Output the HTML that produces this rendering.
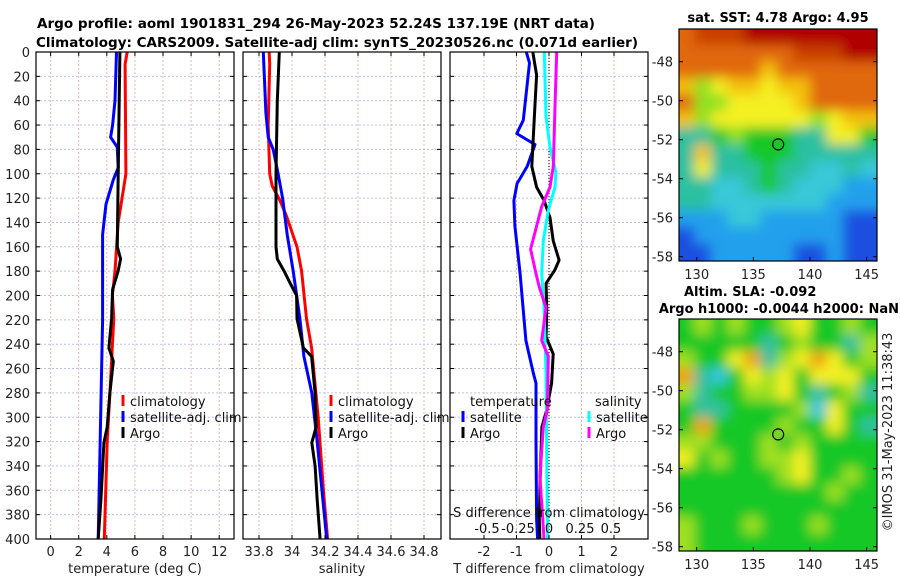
<!DOCTYPE html>
<html><head><meta charset="utf-8"><style>
body{margin:0;background:#fff;}
svg{display:block;font-family:"DejaVu Sans","Liberation Sans",sans-serif;}
</style></head><body>
<svg id="fig" width="900" height="580" viewBox="0 0 900 580">
<defs>
<filter id="blurA" x="-5%" y="-5%" width="110%" height="110%"><feGaussianBlur stdDeviation="6"/></filter>
<clipPath id="clipTop"><rect x="679" y="29" width="198" height="232"/></clipPath>
<clipPath id="clipBot"><rect x="679" y="319" width="198" height="232"/></clipPath>
</defs>
<g font-weight="bold" font-size="13.5" fill="#000">
<text x="37" y="28" textLength="558" lengthAdjust="spacingAndGlyphs">Argo profile: aoml 1901831_294 26-May-2023 52.24S 137.19E (NRT data)</text>
<text x="36" y="47" textLength="602" lengthAdjust="spacingAndGlyphs">Climatology: CARS2009. Satellite-adj clim: synTS_20230526.nc (0.071d earlier)</text>
</g>
<g id="g-grid"></g>
<g id="g-lines"></g>
<g id="g-axes"></g>
<g id="g-maps"></g>
</svg>
<script>
// ---- temperature panel data ----
const tClimDepth = [0,10,100,110,140,180,200,219,280,320,400];
const tClimVal   = [5.45,5.3,5.36,5.22,4.81,4.58,4.4,4.5,4.22,4.03,3.82];
const tSatDepth  = [0,40,60,70,78,95,105,125,150,220,400];
const tSatVal    = [4.69,4.58,4.41,4.27,4.74,4.81,4.46,3.94,3.7,3.7,3.39];
const tArgoDepth = [0,40,100,160,170,180,195,219,243,254,280,308,321,368,400];
const tArgoVal   = [4.93,4.88,4.81,4.75,4.98,4.8,4.41,4.34,4.15,4.46,4.22,4.03,3.79,3.58,3.39];
// ---- salinity panel data ----
const sClimDepth = [0,10,60,100,110,122,135,160,180,219,243,300,360,400];
const sClimVal   = [33.862,33.865,33.856,33.865,33.88,33.927,33.967,34.03,34.058,34.088,34.119,34.159,34.19,34.216];
const sSatDepth  = [0,50,70,80,100,120,150,180,219,250,280,320,400];
const sSatVal    = [33.826,33.842,33.856,33.886,33.916,33.943,33.971,34.007,34.048,34.072,34.12,34.153,34.21];
const sArgoDepth = [0,40,100,160,170,180,190,200,219,243,250,280,308,321,340,368,400];
const sArgoVal   = [33.923,33.911,33.903,33.903,33.911,33.952,33.989,34.028,34.03,34.069,34.119,34.14,34.146,34.12,34.14,34.153,34.17];
// ---- difference panel data ----
const dTSatDepth = [0,9,56,67,76,94,108,122,143,182,237,264,272,319,384,400];
const dTSatVal   = [-0.7,-0.6,-0.79,-0.99,-0.43,-0.67,-0.98,-1.08,-1.05,-0.89,-0.71,-0.48,-0.4,-0.4,-0.38,-0.35];
const dTArgoDepth= [0,19,43,94,111,122,136,155,171,179,190,212,234,248,272,294,308,349,384,400];
const dTArgoVal  = [-0.5,-0.38,-0.43,-0.53,-0.38,-0.15,0.03,0.13,0.31,0.18,-0.09,-0.07,-0.09,0.13,0.08,-0.07,-0.22,-0.27,-0.3,-0.28];
const dSSatDepth = [0,53,78,99,111,130,155,182,210,264,384,400];
const dSSatVal   = [-0.038,-0.024,0.008,0.056,0.048,-0.006,-0.046,-0.059,-0.04,-0.024,-0.014,-0.012];
const dSArgoDepth= [0,45,94,111,127,143,162,182,193,210,237,250,294,308,349,384,400];
const dSArgoVal  = [0.062,0.048,0.035,0.008,-0.059,-0.1,-0.148,-0.105,-0.078,-0.024,-0.059,-0.006,-0.014,-0.046,-0.073,-0.05,-0.04];
// ---- tick labels ----
const depthTicks = [0,20,40,60,80,100,120,140,160,180,200,220,240,260,280,300,320,340,360,380,400];
const tTicks = [0,2,4,6,8,10,12];
const sTicks = [33.8,34,34.2,34.4,34.6,34.8];
const sTickLabels = ["33.8","34","34.2","34.4","34.6","34.8"];
const dTTicks = [-2,-1,0,1,2];
const dSTicks = [-0.5,-0.25,0,0.25,0.5];
const dSTickLabels = ["-0.5","-0.25","0","0.25","0.5"];
const latTicks = [-48,-50,-52,-54,-56,-58];
const lonTicks = [130,135,140,145];
// ---- map fields (colour class per cell) ----
const sstGrid = [
[8,9,9,9,10,10,10,10,10,10,10,10],
[8,8,8,8,8,8,8,9,9,9,10,10],
[8,8,8,8,8,7,8,8,8,8,8,8],
[7,5,6,7,7,6,7,7,8,8,8,8],
[8,5,5,6,6,6,6,7,8,8,8,8],
[7,5,6,6,6,6,6,6,5,6,7,7],
[3,3,4,5,4,4,4,3,3,6,6,4],
[3,7,3,3,4,4,4,3,3,3,3,3],
[3,6,3,3,3,4,3,3,2,2,3,2],
[3,3,2,2,3,4,3,2,2,2,1,1],
[3,3,2,2,2,2,2,2,2,1,1,1],
[1,1,1,2,2,1,1,1,1,1,0,0],
[0,1,1,1,1,1,1,1,1,1,0,0],
[0,0,1,1,1,1,1,0,0,1,0,0]];
const slaGrid = [
[4,5,4,5,4,4,5,6,4,4,5,4],
[4,4,4,4,4,3,4,5,4,4,3,5],
[5,4,4,6,7,3,5,6,7,6,4,5],
[7,3,2,4,6,5,6,4,6,6,6,4],
[5,3,4,4,5,5,6,4,3,4,5,3],
[4,3,3,4,4,4,4,5,2,6,4,4],
[4,7,4,4,4,4,5,4,4,6,4,3],
[5,5,4,4,4,5,4,5,4,4,4,4],
[6,4,5,4,4,5,5,6,4,4,4,4],
[4,4,4,4,4,4,5,6,4,4,5,4],
[4,4,4,4,4,4,4,4,4,5,4,4],
[4,4,4,4,4,4,4,4,4,4,4,4],
[5,4,4,4,5,4,4,4,5,4,4,4],
[5,4,4,4,4,4,4,4,4,4,4,4]];
const argoLon = 137.19, argoLat = -52.24;

const NS="http://www.w3.org/2000/svg";
const grid=document.getElementById('g-grid'), lines=document.getElementById('g-lines'), axes=document.getElementById('g-axes'), maps=document.getElementById('g-maps');
function mk(tag,attrs,parent){const e=document.createElementNS(NS,tag);for(const k in attrs)e.setAttribute(k,attrs[k]);parent.appendChild(e);return e;}
function txt(s,attrs,parent){const e=mk('text',attrs,parent);e.textContent=s;return e;}

const Y0=52,Y1=539;
const yD=d=>Y0+d*(Y1-Y0)/400;
const xT=t=>36+(t+1.04)*14.05;
const xS=s=>243+(s-33.703)*165;
const xDT=d=>549+d*32.5;
const xDS=s=>549+s*124;
const panels=[{x0:36,x1:234,name:'temperature-panel'},{x0:243,x1:441,name:'salinity-panel'},{x0:450,x1:648,name:'difference-panel'}];

panels.forEach(p=>{
  depthTicks.forEach(d=>{const l=mk('line',{x1:p.x0,x2:p.x1,y1:yD(d),y2:yD(d),stroke:'#b8c0e8','stroke-width':1,'stroke-dasharray':'2,2'},grid);
  
  });
});
function vgrid(arr,fx){arr.forEach(v=>{const l=mk('line',{x1:fx(v),x2:fx(v),y1:Y0,y2:Y1,stroke:'#e8b8b0','stroke-width':1,'stroke-dasharray':'2,2'},grid);
  
  });}
vgrid(tTicks,xT);vgrid(sTicks,xS);vgrid(dTTicks,xDT);
const zl=mk('line',{x1:xDT(0),x2:xDT(0),y1:Y0,y2:Y1,stroke:'#000','stroke-width':1,'stroke-dasharray':'1,2'},grid);



function series(dep,val,fx,color,name){
  const pts=dep.map((d,i)=>fx(val[i]).toFixed(1)+','+yD(d).toFixed(1)).join(' ');
  const pl=mk('polyline',{points:pts,fill:'none',stroke:color,'stroke-width':3,'stroke-linejoin':'round'},lines);
  
  
}
series(tClimDepth,tClimVal,xT,'#ff0000','temperature-climatology-line');
series(tSatDepth,tSatVal,xT,'#0000ff','temperature-satellite-line');
series(tArgoDepth,tArgoVal,xT,'#000000','temperature-argo-line');
series(sClimDepth,sClimVal,xS,'#ff0000','salinity-climatology-line');
series(sSatDepth,sSatVal,xS,'#0000ff','salinity-satellite-line');
series(sArgoDepth,sArgoVal,xS,'#000000','salinity-argo-line');
series(dTSatDepth,dTSatVal,xDT,'#0000ff','tdiff-satellite-line');
series(dTArgoDepth,dTArgoVal,xDT,'#000000','tdiff-argo-line');
series(dSSatDepth,dSSatVal,xDS,'#00ffff','sdiff-satellite-line');
series(dSArgoDepth,dSArgoVal,xDS,'#ff00ff','sdiff-argo-line');

panels.forEach(p=>{
  const r=mk('rect',{x:p.x0,y:Y0,width:p.x1-p.x0,height:Y1-Y0,fill:'none',stroke:'#000','stroke-width':1.2},axes);
  
  
  depthTicks.forEach(d=>{mk('line',{x1:p.x0,x2:p.x0+4,y1:yD(d),y2:yD(d),stroke:'#000'},axes);mk('line',{x1:p.x1-4,x2:p.x1,y1:yD(d),y2:yD(d),stroke:'#000'},axes);});
});
depthTicks.forEach(d=>{const t=txt(String(d),{x:30,y:yD(d)+5,'text-anchor':'end','font-size':13,fill:'#222'},axes);
  
  });
function xticks(arr,labels,fx,y){arr.forEach((v,i)=>{mk('line',{x1:fx(v),x2:fx(v),y1:Y1,y2:Y1-4,stroke:'#000'},axes);mk('line',{x1:fx(v),x2:fx(v),y1:Y0,y2:Y0+4,stroke:'#000'},axes);
  const t=txt(labels[i],{x:fx(v),y:y,'text-anchor':'middle','font-size':13,fill:'#222'},axes);
  
  });}
xticks(tTicks,tTicks.map(String),xT,556);
xticks(sTicks,sTickLabels,xS,556);
xticks(dTTicks,dTTicks.map(String),xDT,556);
dSTicks.forEach((v,i)=>{const t=txt(dSTickLabels[i],{x:xDS(v),y:533,'text-anchor':'middle','font-size':13,fill:'#111'},axes);
  
  });
[['temperature (deg C)',135,'temperature-axis-title'],['salinity',342,'salinity-axis-title'],['T difference from climatology',549,'tdiff-axis-title']].forEach(a=>{
  const t=txt(a[0],{x:a[1],y:573,'text-anchor':'middle','font-size':13,fill:'#222'},axes);
  
  });
const sdt=txt('S difference from climatology',{x:549,y:517,'text-anchor':'middle','font-size':13,fill:'#111'},axes);



function legend(x,y,color,label,name){
  const g=mk('g',{},axes);
  
  
  mk('rect',{x:x-1.5,y:y-11,width:3,height:11,fill:color},g);
  txt(label,{x:x+7,y:y,'font-size':13,fill:'#111'},g);
}
legend(123,406,'#ff0000','climatology','legend-climatology');
legend(123,422,'#0000ff','satellite-adj. clim','legend-satellite-adj');
legend(123,438,'#000','Argo','legend-argo');
legend(331,406,'#ff0000','climatology','legend-climatology-2');
legend(331,422,'#0000ff','satellite-adj. clim','legend-satellite-adj-2');
legend(331,438,'#000','Argo','legend-argo-2');
const lt=txt('temperature',{x:470,y:406,'font-size':13,fill:'#111'},axes);


const ls=txt('salinity',{x:595,y:406,'font-size':13,fill:'#111'},axes);


legend(463,422,'#0000ff','satellite','legend-t-satellite');
legend(463,438,'#000','Argo','legend-t-argo');
legend(589,422,'#00ffff','satellite','legend-s-satellite');
legend(589,438,'#ff00ff','Argo','legend-s-argo');

const sstCols=['#1f50e0','#22a0ec','#38c8d8','#2cc0a0','#18c828','#90e020','#f4f020','#f4c010','#e06808','#c84000','#b00000'];
const slaCols=['#1f50e0','#22a0ec','#30c8e0','#30c0a0','#18c828','#a0e020','#f4f020','#f0a010','#e06808'];
const mx0=679,mx1=877;
const lonX=l=>696.7+(l-130)*11.33;
function drawMap(gridData,cols,top,clip,name){
  const g=mk('g',{'clip-path':'url(#'+clip+')'},maps);
  
  
  const inner=mk('g',{filter:'url(#blurA)'},g);
  const rows=gridData.length, ncol=gridData[0].length, cw=(mx1-mx0)/ncol, ch=232/rows;
  mk('rect',{x:mx0-20,y:top-20,width:238,height:272,fill:cols[gridData[rows-1][0]]},inner);
  gridData.forEach((row,r)=>row.forEach((v,c)=>{
    const x=c===0?mx0-20:mx0+c*cw-1, w=(c===0||c===ncol-1)?cw+21:cw+2;
    const y=r===0?top-20:top+r*ch-1, h=(r===0||r===rows-1)?ch+21:ch+2;
    mk('rect',{x:x,y:y,width:w,height:h,fill:cols[v]},inner);}));
  const latY=lat=>top+32.7+(-48-lat)*19.5;
  mk('rect',{x:mx0,y:top,width:198,height:232,fill:'none',stroke:'#000','stroke-width':1.2},maps);
  latTicks.forEach(l=>{mk('line',{x1:mx1,x2:mx1-4,y1:latY(l),y2:latY(l),stroke:'#000'},maps);mk('line',{x1:mx0,x2:mx0+4,y1:latY(l),y2:latY(l),stroke:'#000'},maps);
    const t=txt(String(l),{x:673,y:latY(l)+5,'text-anchor':'end','font-size':13,fill:'#222'},maps);
    
    });
  lonTicks.forEach(l=>{mk('line',{x1:lonX(l),x2:lonX(l),y1:top+232,y2:top+228,stroke:'#000'},maps);
    const t=txt(String(l),{x:lonX(l),y:top+250,'text-anchor':'middle','font-size':13,fill:'#222'},maps);
    
    });
  const c=mk('circle',{cx:lonX(argoLon),cy:latY(argoLat),r:5.5,fill:'none',stroke:'#000','stroke-width':1.2},maps);
  
  
}
drawMap(sstGrid,sstCols,29,'clipTop','sst-map');
drawMap(slaGrid,slaCols,319,'clipBot','sla-map');
[['sat. SST: 4.78  Argo: 4.95',778,22,'middle','sst-map-title'],['Altim. SLA: -0.092',684,296,'start','sla-title'],['Argo h1000: -0.0044 h2000: NaN',899,313,'end','argo-height-title']].forEach(a=>{
  const t=txt(a[0],{x:a[1],y:a[2],'text-anchor':a[3],'font-size':13,'font-weight':'bold',fill:'#000'},maps);
  
  });
const cr=txt('©IMOS 31-May-2023 11:38:43',{x:0,y:0,'text-anchor':'middle','font-size':13,fill:'#222',transform:'translate(892,432) rotate(-90)'},maps);


</script>
</body></html>
